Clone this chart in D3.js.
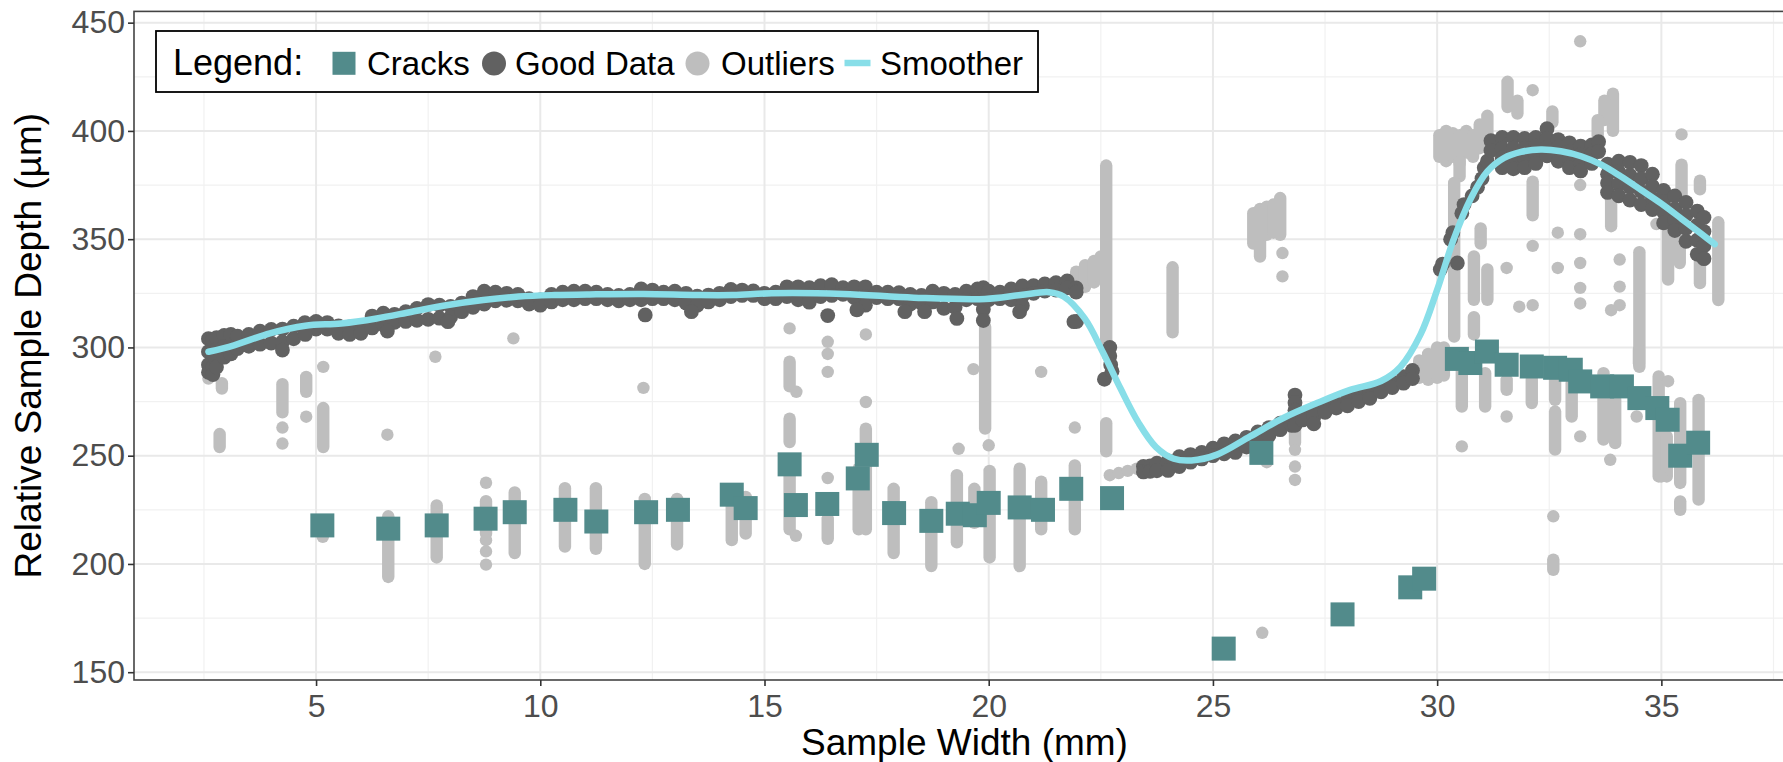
<!DOCTYPE html>
<html><head><meta charset="utf-8">
<script src="https://cdn.jsdelivr.net/npm/d3@7"></script>
<style>
body{margin:0;background:#fff}
svg{display:block}
text{font-family:"Liberation Sans",Arial,Helvetica,sans-serif}
</style>
</head><body>
<svg id="c" width="1783" height="762"></svg>
<script>
// ---------------- data ----------------
const xTicks = [5, 10, 15, 20, 25, 30, 35];
const yTicks = [150, 200, 250, 300, 350, 400, 450];
const xMinor = [2.5, 7.5, 12.5, 17.5, 22.5, 27.5, 32.5, 37.5];
const yMinor = [175, 225, 275, 325, 375, 425];
const xTitle = "Sample Width (mm)";
const yTitle = "Relative Sample Depth (µm)";
const legendTitle = "Legend:";
const legendLabels = ["Cracks", "Good Data", "Outliers", "Smoother"];

// Cracks: [width, depth]
const cracks = [
 [5.14,217.8],[6.61,216.3],[7.69,217.8],[8.78,220.9],[9.43,223.9],[10.56,225.0],[11.25,219.6],
 [12.36,223.9],[13.07,225.0],[14.27,232.0],[14.58,225.8],[15.56,246.0],[15.7,227.2],[16.4,227.7],
 [17.08,239.5],[17.28,250.4],[17.89,223.5],[18.72,219.9],[19.31,223.2],[19.69,222.5],[20.0,228.2],
 [20.69,226.1],[21.21,225.0],[21.84,234.7],[22.75,230.4],[25.24,160.9],[26.08,251.3],[27.89,176.7],
 [29.4,189.2],[29.71,193.2],[30.44,294.7],[30.74,292.8],[31.11,298.1],[31.55,292.0],[32.11,291.2],
 [32.63,290.6],[32.98,289.7],[33.19,284.3],[33.68,282.0],[34.12,282.0],[34.51,276.6],[34.91,272.0],
 [35.14,266.6],[35.42,250.0],[35.82,256.0]
];

// Good data: [width, depth, depth, ...] (several points sharing one width)
const goodData = [
 [2.6,304,298,292,288.5],[2.7,303.5,297,291,287.5],[2.78,304.5,299,294,291],[2.95,305.5,300.5,295.5],[3.1,306,301,297],
 [3.25,305.2,299.5],[3.5,306,300.5],[3.75,307.5,301.5],[4.0,308.3,302],[4.25,308.5,302.5],
 [4.5,309.8,304],[4.75,311.4,307],[5.0,312,308.5],[5.25,311.5,308.5],[5.5,310,306.5],
 [5.75,309.5,306],[6.0,310,306.5],[6.25,314.5,309],[6.5,315.8,310.5],[6.75,315.3,311.6],
 [7.0,316.5,312],[7.25,318,312.5],[7.5,319.8,313],[7.75,319.5,313.5],[8.0,319,314],
 [8.25,320.5,316.5],[8.5,323.5,318.5],[8.75,326,320],[9.0,325.5,321.5],[9.25,325,321.8],
 [9.5,324.5,321.5],[9.75,322.5,320],[10.0,322,319.5],[10.25,324.5,321],[10.5,325.5,322],
 [10.75,326,322],[11.0,326,322.5],[11.25,325.5,322.5],[11.5,324.5,322],[11.75,324,321.5],
 [12.0,324.5,322],[12.25,327,322],[12.5,326.5,322.5],[12.75,325.5,322.5],[13.0,326,322],
 [13.25,325,320.5],[13.5,323.7,319.5],[13.75,324.2,321],[14.0,325,322],[14.25,326.8,323.5],
 [14.5,326.5,324],[14.75,326.1,324],[15.0,325,322.5],[15.25,325.5,322.5],[15.5,328,323.5],
 [15.75,328,322],[16.0,327.6,324.2,320.9],[16.25,328.5,323.5],[16.5,329,324],[16.75,327.6,324.5],
 [17.0,328,323],[17.25,328,323.5,319.5],[17.5,325.5,323],[17.75,325.5,322.5],[18.0,325.3,322.5],
 [18.25,324.5,320],[18.5,324,320.5],[18.75,326,321],[19.0,325,318],[19.25,324.5,318.5],
 [19.5,326,322],[19.75,327,322.5],[19.88,327.6,322.5,317.5,312.4],[20.0,326,322],
 [20.25,325.5,322.5],[20.5,327,322],[20.75,328.4,323.8,319.3],[21.0,328.5,325],
 [21.25,329.3,326],[21.5,329.9,326.5],[21.75,330.7,327.5],[21.95,327.5,325.5],
 [4.25,298.8],[4.76,306],[6.59,307.6],[7.94,311.9],[12.34,315],[13.37,316.5],[16.41,314.7],
 [17.06,317.3],[18.13,316.5],[18.57,316.5],[19.29,313.4],[20.69,316.5],[21.9,311.9],[21.96,312],
 [22.58,285.3],[22.7,300,296],[22.72,292],[22.75,289],
 [23.45,245,242.5],[23.6,245.3,242.8],[23.75,246.5,243],[24.0,247.6,243.2],[24.25,249.5,245],
 [24.5,250.5,247],[24.75,251.5,248.5],[25.0,253.5,250],[25.25,255.5,250.9],[25.5,256.8,251.5],
 [25.75,258.5,254],[26.0,261,257],[26.25,263,259.3],[26.5,265,262],[26.75,267,264],
 [26.83,278,274.5,271,267.5,264],[27.0,269.5,266.5],[27.25,271.4,268,264.7],[27.5,272.5,270],
 [27.75,274,272],[28.0,276.5,273],[28.25,278,275],[28.5,279.5,276.5],[28.75,282,279.5],
 [29.0,284,281.5],[29.25,286.5,283.5],[29.45,289.4,285.6],
 [30.07,336],[30.12,338.5],[30.3,350],[30.35,353],[30.45,339],[30.55,362],[30.6,366],
 [30.78,370],[30.9,374],[31.0,378],[31.05,383],[31.12,386],
 [31.2,395.5,391],[31.45,397,392,387.5,383],[31.7,397,392,387,382.5],[31.95,396.5,392,387.5,383],
 [32.2,397,393,389,385],[32.45,401,396.5,392.5,388.5],[32.7,396,392.5,389,386],
 [32.95,394.5,390.5,387,383],[33.2,393,389,385,381.5],[33.45,393.5,389.5,385],[33.6,395,390.5],
 [33.8,384.7,380,376,371.6],[34.05,386,381,375.5,370],[34.3,385.5,379.5,374,368],
 [34.55,384,378,372,366],[34.8,380,374.5,369,363.7],[35.05,372.5,367.5,362.5,357.5],
 [35.3,370,364,359,354],[35.55,367,361,355,349],[35.8,363,356.5,349.5,343],[35.95,360,353.5,347,341]
];

// Outliers: [width, lowest depth, highest depth] of each run of points
const outliers = [
 [2.6,285.6,285.6],[2.9,281,283.5],[2.85,254,260],[4.25,270,283],[4.25,263,263],[4.25,255.6,255.6],
 [4.78,279.5,286.4],[4.78,268,268],[5.16,291,291],[5.16,254,272],[6.59,259.7,259.7],[7.66,295.7,295.7],
 [9.4,304.2,304.2],[12.3,281.3,281.3],
 [5.15,212.5,215],[6.61,194,222],[7.69,203,227],[8.79,237.5,237.5],[8.79,214,229],[8.79,211,211],
 [8.79,205.8,205.8],[8.79,199.7,199.7],[9.43,205,233],[10.55,208,235],[11.24,207,235],
 [12.33,200,230],[13.05,209,230],[14.27,211,232],[14.58,214,231],
 [15.56,308.8,308.8],[15.56,282,293.4],[15.71,279.5,279.5],[15.56,256.3,267.1],[15.56,216,247],
 [15.7,213,213],[16.41,302.6,302.6],[16.41,297,297],[16.41,288.7,288.7],[16.41,239.7,239.7],
 [16.41,211.6,220.8],[17.26,306,306],[17.26,274.8,274.8],[17.26,256.3,262.5],[17.1,216,244],
 [17.26,216,250],[17.88,205,234.7],[18.72,199,228.5],[19.66,290,290],[19.33,253.2,253.2],
 [19.29,210,241],[19.68,219,234.7],[19.92,262.5,309.6],[20.0,254.8,254.8],[20.02,203,243],
 [20.69,199,244],[21.17,288.7,288.7],[21.17,216,238],[21.92,263,263],[21.92,216,245.5],
 [22.62,252,265],[21.95,327,335],[22.15,328,338],[22.35,330,340],[22.5,332,342],[22.62,300,384],
 [24.1,307,337],[22.7,241,241],[22.9,242,242],[23.1,243,243],[23.3,244,244],[23.5,245,245],
 [23.7,246,246],
 [25.9,348,362],[26.05,342,364],[26.2,352,365],[26.35,353,366],[26.5,352,369],[26.55,343.6,343.6],
 [26.55,332.8,332.8],[26.1,168.2,168.2],[26.2,247,262],[26.83,256,262],[26.83,252.7,252.7],
 [26.83,245,245],[26.83,238.8,238.8],
 [29.6,286,294],[29.8,285,297],[30.0,286,300],[30.15,287,300],
 [30.05,388,398],[30.2,386,400],[30.35,388,399],[30.5,385,398],[30.65,390,400],[30.8,388,398],
 [30.95,392,403],[31.12,398,407],[30.5,379,386],
 [33.19,441.4,441.4],[31.57,411,422.7],[31.79,408,414],[32.13,418.8,418.8],[33.92,400,417.2],
 [33.73,405,414],[32.57,404,409],[33.58,398,405],
 [30.38,305,376],[30.82,306,314],[30.82,322,342],[31.12,322,336],[30.97,348,355],
 [31.55,336.7,336.7],[31.83,318.8,318.8],[32.13,319.5,319.5],[32.13,361,376.6],[32.13,346.9,346.9],
 [32.69,353,353],[32.69,336.7,336.7],[33.19,375,375],[33.19,352.3,352.3],[33.19,339,339],
 [33.19,327.5,327.5],[33.19,320.3,320.3],[33.88,356,368],[33.88,317.2,317.2],[34.07,319.5,319.5],
 [34.07,340.6,340.6],[34.07,328.1,328.1],[34.51,291,344],[34.89,357,357],[35.15,331.3,354.7],
 [35.15,284.4,284.4],[35.41,339,354.7],[35.45,398.4,398.4],[35.45,370.3,384.4],[35.86,373,377],
 [35.86,329.7,342],[36.27,321.9,357.8],
 [30.55,272.7,289.7],[30.55,254.3,254.3],[31.07,272.7,288.1],[31.55,280.4,285],[31.55,268.1,268.1],
 [32.11,274.3,285],[32.63,275.8,285],[32.63,252.8,270.4],[32.59,222,222],[32.59,197.3,202],
 [33.0,268.1,283.5],[33.19,258.9,258.9],[33.71,257.4,288.1],[33.86,248.1,248.1],[33.97,255.8,275.8],
 [34.45,268.1,268.1],[34.5,292.7,298.9],[34.94,240.4,286.6],[35.12,240.4,258.9],[35.42,237.4,274.3],
 [35.42,225,228.9],[35.83,229.7,275.8],[35.0,240.4,240.4]
];

// Smoother: [width, depth]
const smoother = [
 [2.6,298],[3.17,301],[3.97,306.5],[4.76,310],[5.56,311.1],[6.35,313.4],[7.14,316.5],[7.94,319.6],
 [8.73,321.9],[9.52,323.5],[10.32,324.2],[11.1,324.5],[12.3,324.7],[13.5,324.2],[14.3,324.2],
 [15.16,325],[16.75,324.7],[18.33,323],[19.92,322.4],[20.71,324.2],[21.35,325.5],[21.67,323.5],
 [22.14,313.4],[22.54,298],[22.94,281],[23.33,265.6],[23.73,254],[24.13,248.6],[24.52,247.8],
 [25.09,250.5],[25.83,258.9],[26.57,267.4],[27.32,274.3],[28.06,280.4],[28.75,284.5],[29.18,291],
 [29.63,306],[30.0,326.6],[30.37,350],[30.75,368.8],[31.12,381.3],[31.49,387.5],[31.87,390.3],
 [32.31,391.4],[32.76,390.6],[33.21,388.3],[33.66,384.4],[34.1,378.9],[34.55,372.7],[35.0,366.4],
 [35.45,359.4],[35.9,352.3],[36.19,347.7]
];

// ---------------- styles ----------------
const COL = {crack:"#528B8B", good:"#616161", out:"#BEBEBE", smooth:"#88DEE8"};
const P = {l:134, r:1795, t:11.4, b:680};
const R_OUT = 6.2, R_GOOD = 7.4;

const svg = d3.select("#c");
const x = d3.scaleLinear().domain([0.94, 37.98]).range([P.l, P.r]);
const y = d3.scaleLinear().domain([146.4, 455.2]).range([P.b, P.t]);

svg.append("defs").append("clipPath").attr("id","clip")
  .append("rect").attr("x",P.l).attr("y",P.t).attr("width",P.r-P.l).attr("height",P.b-P.t);

// grid
const grid = svg.append("g");
grid.selectAll(".xm").data(xMinor).join("line")
  .attr("x1",d=>x(d)).attr("x2",d=>x(d)).attr("y1",P.t).attr("y2",P.b)
  .attr("stroke","#F1F1F1").attr("stroke-width",1.2);
grid.selectAll(".ym").data(yMinor).join("line")
  .attr("y1",d=>y(d)).attr("y2",d=>y(d)).attr("x1",P.l).attr("x2",P.r)
  .attr("stroke","#F1F1F1").attr("stroke-width",1.2);
grid.selectAll(".xM").data(xTicks).join("line")
  .attr("x1",d=>x(d)).attr("x2",d=>x(d)).attr("y1",P.t).attr("y2",P.b)
  .attr("stroke","#E9E9E9").attr("stroke-width",2);
grid.selectAll(".yM").data(yTicks).join("line")
  .attr("y1",d=>y(d)).attr("y2",d=>y(d)).attr("x1",P.l).attr("x2",P.r)
  .attr("stroke","#E9E9E9").attr("stroke-width",2);

const plot = svg.append("g").attr("clip-path","url(#clip)");

// outliers
const runs = outliers.filter(d=>d[1]!==d[2]);
const singles = outliers.filter(d=>d[1]===d[2]);
plot.append("g").selectAll("line").data(runs).join("line")
  .attr("x1",d=>x(d[0])).attr("x2",d=>x(d[0])).attr("y1",d=>y(d[1])).attr("y2",d=>y(d[2]))
  .attr("stroke",COL.out).attr("stroke-width",2*R_OUT).attr("stroke-linecap","round");
plot.append("g").selectAll("circle").data(singles).join("circle")
  .attr("cx",d=>x(d[0])).attr("cy",d=>y(d[1])).attr("r",R_OUT).attr("fill",COL.out);

// good data
const goodPts = goodData.flatMap(r => r.slice(1).map(v => [r[0], v]));
plot.append("g").selectAll("circle").data(goodPts).join("circle")
  .attr("cx",d=>x(d[0])).attr("cy",d=>y(d[1])).attr("r",R_GOOD).attr("fill",COL.good);

// cracks
const S = 24;
plot.append("g").selectAll("rect").data(cracks).join("rect")
  .attr("x",d=>x(d[0])-S/2).attr("y",d=>y(d[1])-S/2).attr("width",S).attr("height",S)
  .attr("fill",COL.crack);

// smoother
plot.append("path").datum(smoother)
  .attr("d", d3.line().x(d=>x(d[0])).y(d=>y(d[1])).curve(d3.curveCatmullRom.alpha(0.5)))
  .attr("fill","none").attr("stroke",COL.smooth).attr("stroke-width",6.5)
  .attr("stroke-linecap","round").attr("stroke-linejoin","round");

// panel border
svg.append("rect").attr("x",P.l).attr("y",P.t).attr("width",P.r-P.l).attr("height",P.b-P.t)
  .attr("fill","none").attr("stroke","#444").attr("stroke-width",1.6);

// axes
const FONT = '"Liberation Sans",Arial,Helvetica,sans-serif';
const ya = svg.append("g").attr("transform",`translate(${P.l},0)`)
  .call(d3.axisLeft(y).tickValues(yTicks).tickSize(6).tickPadding(3).tickFormat(d3.format("d")));
const xa = svg.append("g").attr("transform",`translate(0,${P.b})`)
  .call(d3.axisBottom(x).tickValues(xTicks).tickSize(6).tickPadding(8).tickFormat(d3.format("d")));
[ya, xa].forEach(a => {
  a.select(".domain").remove();
  a.attr("font-family", FONT).attr("font-size", 32);
  a.selectAll("line").attr("stroke","#333").attr("stroke-width",1.6);
  a.selectAll("text").attr("fill","#4D4D4D");
});

// titles
svg.append("text").attr("x",(P.l+P.r)/2).attr("y",755).attr("text-anchor","middle")
  .attr("font-size",37).attr("fill","#000").text(xTitle);
svg.append("text").attr("transform",`translate(41,${(P.t+P.b)/2}) rotate(-90)`)
  .attr("text-anchor","middle").attr("font-size",37).attr("fill","#000").text(yTitle);

// legend
const lg = svg.append("g");
lg.append("rect").attr("x",156).attr("y",31).attr("width",882).attr("height",61)
  .attr("fill","#fff").attr("stroke","#000").attr("stroke-width",1.8);
lg.append("text").attr("x",173).attr("y",75).attr("font-size",36).attr("fill","#000").text(legendTitle);
const keyX = [344, 494, 697.5, 857.5];
const labX = [367, 515, 721, 880];
lg.append("rect").attr("x",keyX[0]-11.5).attr("y",63.3-11.5).attr("width",23).attr("height",23).attr("fill",COL.crack);
lg.append("circle").attr("cx",keyX[1]).attr("cy",63.5).attr("r",12).attr("fill",COL.good);
lg.append("circle").attr("cx",keyX[2]).attr("cy",63.5).attr("r",12).attr("fill",COL.out);
lg.append("line").attr("x1",keyX[3]-13).attr("x2",keyX[3]+13).attr("y1",63).attr("y2",63)
  .attr("stroke",COL.smooth).attr("stroke-width",6.5);
lg.selectAll(".lab").data(legendLabels).join("text")
  .attr("x",(d,i)=>labX[i]).attr("y",75).attr("font-size",33).attr("fill","#000").text(d=>d);
</script>
</body></html>
